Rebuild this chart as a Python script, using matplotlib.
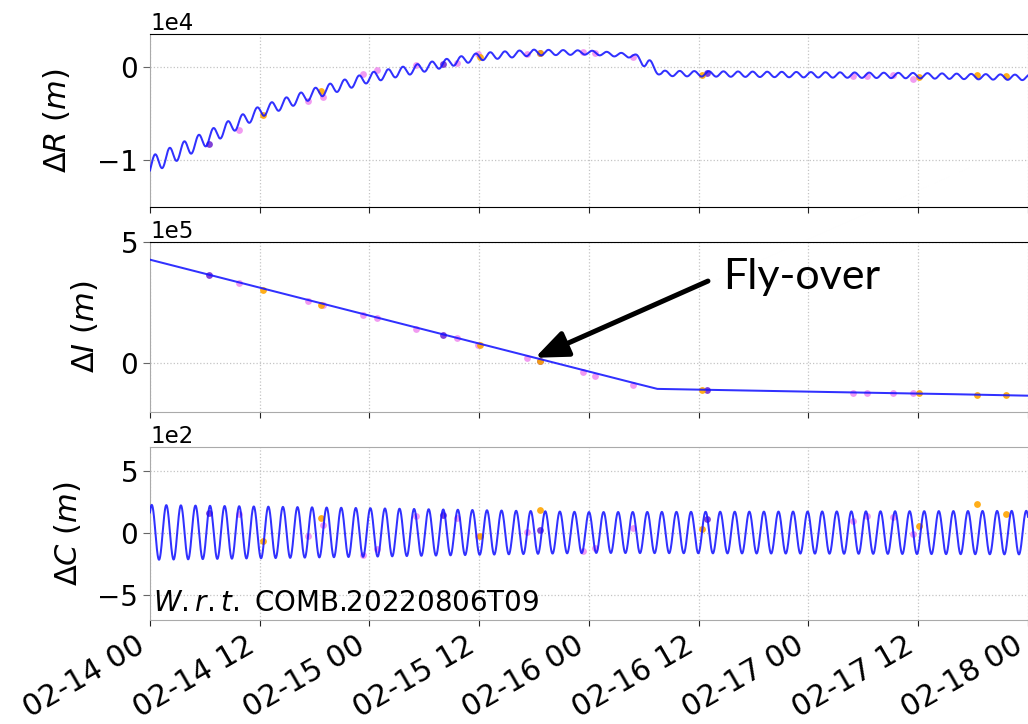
import numpy as np
import matplotlib

matplotlib.use("Agg")
import matplotlib.pyplot as plt
import matplotlib.dates as mdates

EPOCH = np.datetime64("2023-02-14T00:00")
T_END = 4.0  # days shown

# orbital period and phase of the first maximum [days since 02-14 00]
PERIOD = 0.0664
R_PEAK0 = 0.023
C_PEAK0 = 0.008

# radial: drift knots and orbit-periodic amplitude knots [m]
R_TREND_T = [0.0, 0.25, 0.5, 0.75, 1.0, 1.25, 1.5, 1.75, 2.0, 2.2, 2.27, 2.33, 2.5, 3.0, 3.5, 4.0]
R_TREND = [-10600, -7800, -4800, -2800, -1100, 0, 1150, 1600, 1600, 1250, 400, -650,
           -700, -800, -900, -1100]
R_AMP_T = [0.0, 0.25, 0.5, 1.0, 1.5, 2.0, 2.2, 2.26, 2.3, 2.35, 4.0]
R_AMP = [950, 800, 600, 540, 410, 220, 220, 600, 400, 290, 290]

# in-track: piecewise drift [m]
I_T = [0.0, 2.31, 2.9, 3.5, 4.0]
I_VAL = [4.27e5, -1.05e5, -1.15e5, -1.24e5, -1.33e5]

# cross-track: mean offset and amplitude knots [m]
C_MEAN_T = [0.0, 4.0]
C_MEAN = [8, 6]
C_AMP_T = [0.0, 1.0, 2.0, 3.0, 4.0]
C_AMP = [222, 196, 165, 170, 176]

# observation epochs [days] and residual positions [m]
ORANGE_T = [0.513, 0.779, 1.503, 1.777, 2.513, 3.505, 3.769, 3.902]
ORANGE_R = [-5100, -2600, 1100, 1500, -800, -1000, -800, -900]
ORANGE_I = [3.03e5, 2.40e5, 0.74e5, 0.10e5, -1.10e5, -1.24e5, -1.31e5, -1.32e5]
ORANGE_C = [-62, 127, -22, 189, 32, 59, 235, 154]

VIOLET_T = [0.406, 0.721, 0.79, 0.972, 1.036, 1.212, 1.400, 1.495, 1.719, 1.971,
            2.027, 2.202, 3.205, 3.265, 3.386, 3.477]
VIOLET_R = [-6800, -3600, -3200, -700, -300, 200, 500, 1400, 1400, 1700,
            1600, 1100, -900, -900, -850, -1250]
VIOLET_I = [3.31e5, 2.56e5, 2.40e5, 1.98e5, 1.85e5, 1.43e5, 1.05e5, 0.74e5, 0.22e5, -0.36e5,
            -0.52e5, -0.90e5, -1.21e5, -1.21e5, -1.21e5, -1.24e5]
VIOLET_C = [154, -22, 65, -178, -124, 141, 127, -22, 11, -143,
            -116, 46, 100, 141, 135, -8]

PURPLE_T = [0.270, 1.333, 1.777, 2.536]
PURPLE_R = [-8300, 400, 1500, -650]
PURPLE_I = [3.64e5, 1.16e5, 0.10e5, -1.10e5]
PURPLE_C = [168, 146, 27, 119]

FLYOVER_T = 1.754
REFERENCE = "COMB.20220806T09"


def to_dates(days):
    secs = np.round(np.asarray(days, float) * 86400).astype("int64")
    return EPOCH + secs.astype("timedelta64[s]")


t = np.linspace(0.0, T_END, 8001)
dR = np.interp(t, R_TREND_T, R_TREND) + np.interp(t, R_AMP_T, R_AMP) * np.cos(
    2 * np.pi * (t - R_PEAK0) / PERIOD)
dI = np.interp(t, I_T, I_VAL)
dC = np.interp(t, C_MEAN_T, C_MEAN) + np.interp(t, C_AMP_T, C_AMP) * np.cos(
    2 * np.pi * (t - C_PEAK0) / PERIOD)

fig = plt.figure(figsize=(10.28, 7.24), dpi=100)
left, width = 0.1459, 0.8541
ax_r = fig.add_axes([left, 0.714, width, 0.239])
ax_i = fig.add_axes([left, 0.431, width, 0.2348])
ax_c = fig.add_axes([left, 0.1436, width, 0.2394])

# axes, series, y label, label x position (axes fraction), y limits, y ticks
panels = [
    (ax_r, dR, ORANGE_R, VIOLET_R, PURPLE_R, r"$\Delta R$ $(m)$", -0.089, (-1.51e4, 0.36e4), [-1e4, 0]),
    (ax_i, dI, ORANGE_I, VIOLET_I, PURPLE_I, r"$\Delta I$ $(m)$", -0.057, (-2e5, 5e5), [0, 5e5]),
    (ax_c, dC, ORANGE_C, VIOLET_C, PURPLE_C, r"$\Delta C$ $(m)$", -0.076, (-700, 700), [-500, 0, 500]),
]
x = to_dates(t)
for ax, y, yo, yv, yp, label, lab_x, ylim, yticks in panels:
    ax.scatter(to_dates(VIOLET_T), yv, s=24, color="violet", alpha=0.8, lw=0, zorder=2)
    ax.scatter(to_dates(PURPLE_T), yp, s=24, color="#6a1fd0", alpha=0.85, lw=0, zorder=2)
    ax.scatter(to_dates(ORANGE_T), yo, s=24, color="orange", alpha=0.9, lw=0, zorder=2)
    ax.plot(x, y, color="#1414ff", lw=1.45, alpha=0.88, zorder=3)

    ax.set_xlim(to_dates([0.0])[0], to_dates([T_END])[0])
    ax.set_ylim(*ylim)
    ax.set_yticks(yticks)
    ax.ticklabel_format(axis="y", style="sci", scilimits=(0, 0))
    ax.yaxis.get_offset_text().set_fontsize(16.5)
    ax.set_ylabel(label, fontsize=22)
    ax.yaxis.set_label_coords(lab_x, 0.5)
    ax.tick_params(axis="y", labelsize=20, length=5, color="#666666")
    ax.tick_params(axis="x", length=4, color="#222222")
    ax.xaxis.set_major_locator(mdates.HourLocator(byhour=[0, 12]))
    ax.xaxis.set_major_formatter(mdates.DateFormatter("%m-%d %H"))
    ax.grid(True, ls=":", color="#c4c4c4", lw=0.9)
    for side in ("left", "top", "bottom"):
        ax.spines[side].set_color("#aaaaaa")
    ax.spines["right"].set_visible(False)

ax_r.spines["top"].set_color("black")
ax_r.spines["bottom"].set_color("black")
ax_i.spines["top"].set_color("black")
ax_r.tick_params(axis="x", labelbottom=False)
ax_i.tick_params(axis="x", labelbottom=False)
for lbl in ax_c.get_xticklabels():
    lbl.set_rotation(30)
    lbl.set_ha("right")
    lbl.set_fontsize(21.5)

ax_c.text(0.003, 0.015, r"$W.r.t.$ " + REFERENCE, transform=ax_c.transAxes,
          fontsize=20, ha="left", va="bottom")

# fly-over marker on the in-track panel
tip = (to_dates([FLYOVER_T])[0], np.interp(FLYOVER_T, I_T, I_VAL))
ax_i.annotate("", xy=tip, xytext=(to_dates([2.542])[0], 3.39e5),
              arrowprops=dict(arrowstyle="-|>,head_length=1.1,head_width=0.45",
                              color="black", lw=3.6, mutation_scale=18,
                              shrinkA=0, shrinkB=0), zorder=5)
ax_i.text(to_dates([2.61])[0], 3.06e5, "Fly-over", fontsize=31, family="Lato",
          ha="left", va="baseline", zorder=5)

fig.savefig("out.png", dpi=100)
